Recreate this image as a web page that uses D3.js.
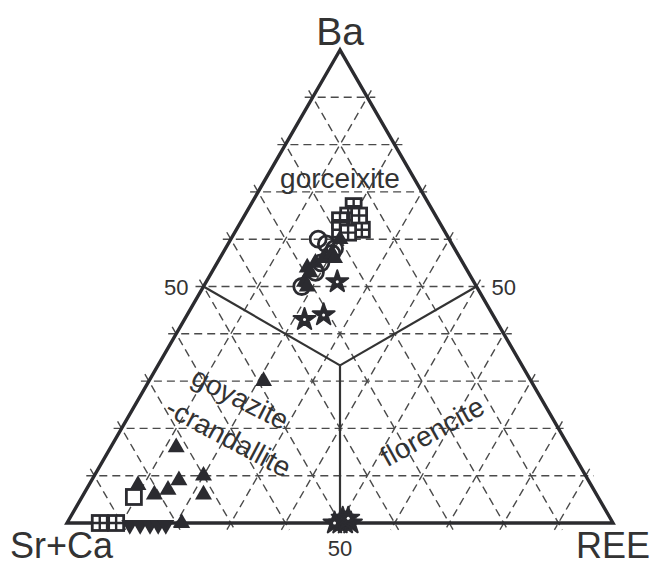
<!DOCTYPE html>
<html>
<head>
<meta charset="utf-8">
<script src="https://cdn.jsdelivr.net/npm/d3@7"></script>
<style>
  body { margin: 0; background: #fff; }
  text { font-family: "Liberation Sans", Arial, sans-serif; fill: #333; }
</style>
</head>
<body>
<div id="chart"></div>
<script>
// compositions as [Ba, Sr+Ca, REE] in percent
var crossSquares = [[67,14,19],[65,16,19],[64,18,18],[64,15,21],[62,15,23],[62,19,19],[62,18,21],[65,14,21],[0,94,6],[0,91,9]]
var openCircles = [[60,24,16],[59,23,18],[57,23,20],[55,26,19],[53,28,19],[50,32,18],[58,22,20]]
var filledTriangles = [[54,29,17],[55,27,18],[56,25,19],[57,23,20],[51,31,18],[50,31,19],[60,20,20],[53,29,18],[56,23,21],
  [30,49,21],[16,72,12],[9,75,16],[10,70,20],[8,83,9],[6,81,13],[7,78,15],[6,72,22],[0,79,21]]
var stars = [[51,25,24],[43,35,22],[44,31,25],[0,50,50],[0,49,51],[0,48,52],[1,49,50],[1,48,51],[0,51,49]]
var openSquares = [[5.5,85,9.5]]
var invTriangles = [[0,88.5,11.5],[0,86.6,13.4],[0,84.8,15.2],[0,83.3,16.7],[0,81.9,18.1]]
var gridValues = [10,20,30,40,50,60,70,80,90]
var cornerLabels = ['Ba','Sr+Ca','REE']
var fieldLabels = ['gorceixite','goyazite','-crandallite','florencite']

var W = 655, H = 567
var svg = d3.select('#chart').append('svg').attr('width', W).attr('height', H)

var xs = d3.scaleLinear().domain([0, 100]).range([67, 613])
var ys = d3.scaleLinear().domain([0, 100]).range([523, 50])

function proj(p) {
    var s = p[0] + p[1] + p[2]
    var a = p[0] / s * 100, c = p[2] / s * 100
    return [xs(c + a / 2), ys(a)]
}

// dashed grid, each line sticking out a bit past the frame
var grid = svg.append('g')
function gridLine(p1, p2) {
    var A = proj(p1), B = proj(p2)
    var dx = B[0] - A[0], dy = B[1] - A[1], L = Math.sqrt(dx * dx + dy * dy)
    var e = 8
    grid.append('line')
        .attr('x1', A[0] - dx / L * e).attr('y1', A[1] - dy / L * e)
        .attr('x2', B[0] + dx / L * e).attr('y2', B[1] + dy / L * e)
        .attr('stroke', '#4a4a4a').attr('stroke-width', 1.4)
        .attr('stroke-dasharray', '8,5')
}
gridValues.forEach(function (v) {
    gridLine([v, 100 - v, 0], [v, 0, 100 - v])   // constant Ba
    gridLine([100 - v, v, 0], [0, v, 100 - v])   // constant Sr+Ca
    gridLine([100 - v, 0, v], [0, 100 - v, v])   // constant REE
})

// field boundaries
var centre = proj([1, 1, 1])
var bounds = [[50, 50, 0], [50, 0, 50], [0, 50, 50]]
bounds.forEach(function (b) {
    var P = proj(b)
    svg.append('line')
        .attr('x1', P[0]).attr('y1', P[1]).attr('x2', centre[0]).attr('y2', centre[1])
        .attr('stroke', '#333').attr('stroke-width', 2.2)
})

// frame
var corners = [proj([100, 0, 0]), proj([0, 100, 0]), proj([0, 0, 100])]
svg.append('path')
    .attr('d', 'M' + corners.join('L') + 'Z')
    .attr('fill', 'none').attr('stroke', '#2b2b2f').attr('stroke-width', 3.4)
    .attr('stroke-linejoin', 'miter')

// corner labels
svg.append('text').attr('x', corners[0][0]).attr('y', 45).attr('text-anchor', 'middle')
    .style('font-size', '39px').text(cornerLabels[0])
svg.append('text').attr('x', 10).attr('y', 558)
    .style('font-size', '36px').text(cornerLabels[1])
svg.append('text').attr('x', 650).attr('y', 558).attr('text-anchor', 'end')
    .style('font-size', '36px').text(cornerLabels[2])

// 50 labels
var m1 = proj([50, 50, 0]), m2 = proj([50, 0, 50]), m3 = proj([0, 50, 50])
svg.append('text').attr('x', m1[0] - 15).attr('y', m1[1] + 8).attr('text-anchor', 'end')
    .style('font-size', '22px').text('50')
svg.append('text').attr('x', m2[0] + 15).attr('y', m2[1] + 8)
    .style('font-size', '22px').text('50')
svg.append('text').attr('x', m3[0]).attr('y', m3[1] + 33).attr('text-anchor', 'middle')
    .style('font-size', '22px').text('50')

// field names
svg.append('text').attr('x', 340).attr('y', 188).attr('text-anchor', 'middle')
    .style('font-size', '28px').text(fieldLabels[0])
svg.append('text').attr('transform', 'translate(236,407) rotate(27)').attr('text-anchor', 'middle')
    .style('font-size', '28px').text(fieldLabels[1])
svg.append('text').attr('transform', 'translate(224,446) rotate(28)').attr('text-anchor', 'middle')
    .style('font-size', '28px').text(fieldLabels[2])
svg.append('text').attr('transform', 'translate(437,440) rotate(-29)').attr('text-anchor', 'middle')
    .style('font-size', '28px').text(fieldLabels[3])

var ink = '#2b2b30'
var pts = svg.append('g')

// crossed squares
crossSquares.forEach(function (d) {
    var P = proj(d), h = 7.5
    var g = pts.append('g').attr('transform', 'translate(' + P + ')')
    g.append('rect').attr('x', -h).attr('y', -h).attr('width', 2 * h).attr('height', 2 * h)
        .attr('fill', '#fff').attr('stroke', ink).attr('stroke-width', 2.8)
    g.append('path').attr('d', 'M0,' + (-h) + 'V' + h + 'M' + (-h) + ',0H' + h)
        .attr('stroke', ink).attr('stroke-width', 2.4)
})

// open squares
openSquares.forEach(function (d) {
    var P = proj(d), h = 7.5
    pts.append('rect').attr('x', P[0] - h).attr('y', P[1] - h).attr('width', 2 * h).attr('height', 2 * h)
        .attr('fill', '#fff').attr('stroke', ink).attr('stroke-width', 2.8)
})

// open circles
pts.selectAll('.circ').data(openCircles).enter().append('circle')
    .attr('cx', function (d) { return proj(d)[0] })
    .attr('cy', function (d) { return proj(d)[1] })
    .attr('r', 8).attr('fill', 'none').attr('stroke', ink).attr('stroke-width', 2.8)

// filled triangles
var tri = d3.symbol().type(d3.symbolTriangle).size(125)
pts.selectAll('.tri').data(filledTriangles).enter().append('path')
    .attr('d', tri)
    .attr('transform', function (d) { return 'translate(' + proj(d) + ')' })
    .attr('fill', ink)

// inverted triangles
pts.selectAll('.itri').data(invTriangles).enter().append('path')
    .attr('d', tri)
    .attr('transform', function (d) { var P = proj(d); return 'translate(' + P[0] + ',' + (P[1] + 2) + ') rotate(180)' })
    .attr('fill', ink)

// stars
var star = d3.symbol().type(d3.symbolStar).size(150)
stars.forEach(function (d) {
    var P = proj(d)
    pts.append('path').attr('d', star).attr('transform', 'translate(' + P + ')')
        .attr('fill', ink).attr('stroke', ink).attr('stroke-width', 2).attr('stroke-linejoin', 'round')
    pts.append('circle').attr('cx', P[0]).attr('cy', P[1]).attr('r', 1.5).attr('fill', '#fff')
})
</script>
</body>
</html>
